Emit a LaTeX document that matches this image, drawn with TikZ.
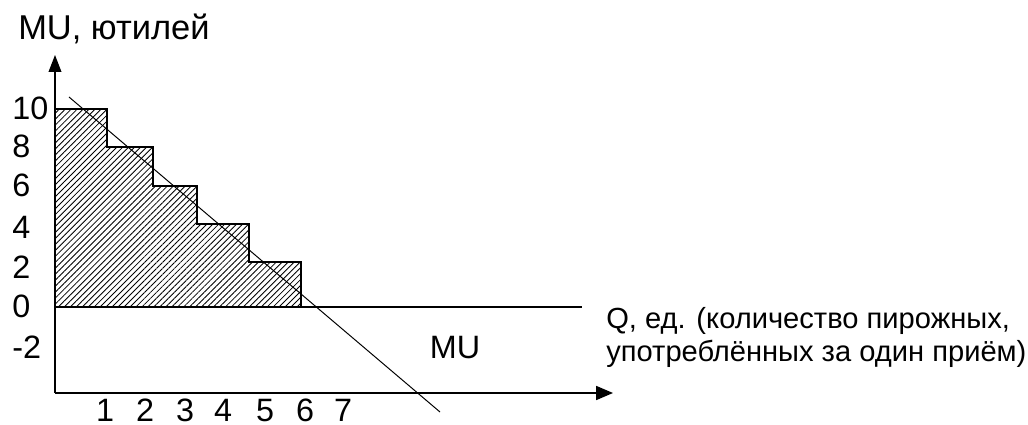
\documentclass[tikz,border=0pt]{standalone}
\usepackage{fontspec}
\setmainfont{Liberation Sans}
\usetikzlibrary{arrows.meta}
\usetikzlibrary{patterns.meta}

\begin{document}
\begin{tikzpicture}[x=0.025cm, y=-0.025cm, font=\fontsize{23}{27}\selectfont, inner sep=0pt]
            \useasboundingbox (0,0) rectangle (1028,425);
            % staircase of total utility
            \draw[line width=1pt, pattern={Lines[angle=45, distance=3pt, line width=0.6pt]}] (55,307) -- (55,109) -- (107,109) -- (107,147) -- (153,147) -- (153,186) -- (197,186) -- (197,224) -- (249,224) -- (249,262) -- (301,262) -- (301,307) -- cycle;
            \draw[line width=1pt] (55,307) -- (582,307);
            \draw [line width=1pt, -{Triangle[length=12pt, width=9pt]}] (55,393) -- (55,55);
            \draw [line width=1pt, -{Triangle[length=12pt, width=10pt]}] (55,393) -- (613,393);
            \draw [line width=0.7pt] (69,97) -- (440,412);

            \node[anchor=base west, font=\fontsize{24.5}{28}\selectfont] (ytitle) at (18,40) {MU, ютилей};
            \node[anchor=base west] (y10) at (12,120) {10};
            \node[anchor=base west] (y8) at (12,158) {8};
            \node[anchor=base west] (y6) at (12,197) {6};
            \node[anchor=base west] (y4) at (12,239) {4};
            \node[anchor=base west] (y2) at (12,279) {2};
            \node[anchor=base west] (y0) at (12,318) {0};
            \node[anchor=base west] (ym2) at (12,359) {-2};

            \node[anchor=base] (q1) at (105,422) {1};
            \node[anchor=base] (q2) at (145,422) {2};
            \node[anchor=base] (q3) at (185,422) {3};
            \node[anchor=base] (q4) at (223,422) {4};
            \node[anchor=base] (q5) at (265,422) {5};
            \node[anchor=base] (q6) at (305,422) {6};
            \node[anchor=base] (q7) at (343,422) {7};

            \node[anchor=base] (mulabel) at (455,359) {MU};
            \node[anchor=north west, align=left, font=\fontsize{20.7}{23.5}\selectfont] (xtitle) at (606,307) {Q, ед. (количество пирожных,\\употреблённых за один приём)};
\end{tikzpicture}
\end{document}
